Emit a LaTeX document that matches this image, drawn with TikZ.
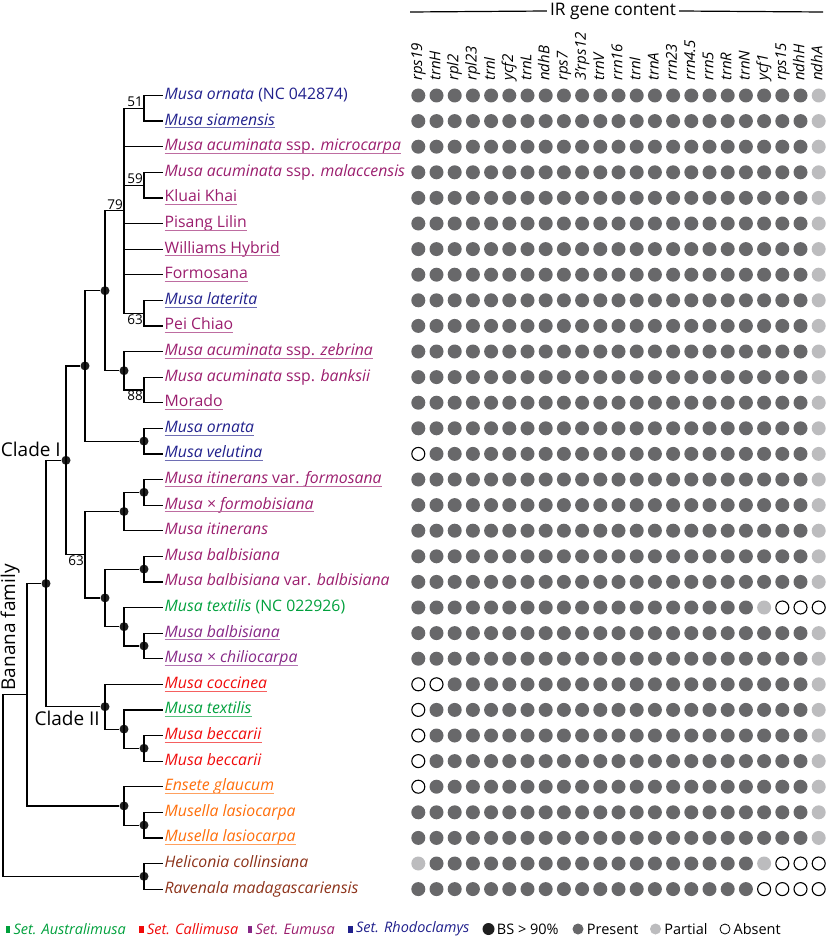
\documentclass[tikz,border=0pt]{standalone}
\usepackage{fontspec}
\setmainfont{Open Sans}
\usetikzlibrary{positioning, calc}

\definecolor{rho}{RGB}{32,32,140}
\definecolor{eum}{RGB}{155,30,110}
\definecolor{eumb}{RGB}{135,40,135}
\definecolor{aus}{RGB}{0,160,60}
\definecolor{cal}{RGB}{240,10,10}
\definecolor{ens}{RGB}{255,110,10}
\definecolor{outg}{RGB}{140,50,25}
\definecolor{dotdark}{RGB}{104,104,106}
\definecolor{dotlight}{RGB}{188,188,190}

% row and column positions of the figure
\newcommand{\ry}[1]{95.5+25.6*(#1-1)}
\newcommand{\cx}[1]{418.3+18.2*(#1-1)}

\begin{document}
\begin{tikzpicture}[%
		x=1pt, y=-1pt,
		branch/.style={
			line width=1.2pt,
			black
		},
		joint/.style={
			circle,
			inner sep=0pt,
			minimum size=0pt
		},
		bsdot/.style={
			circle,
			fill=black!88,
			inner sep=0pt,
			minimum size=9pt
		},
		bslabel/.style={
			font=\fontsize{13.5}{15}\selectfont,
			inner sep=1pt
		},
		leaf/.style={
			anchor=west,
			inner xsep=1.5pt,
			inner ysep=0pt,
			text height=11.5pt,
			text depth=3.7pt,
			font=\fontsize{15.8}{18}\selectfont
		},
		clade/.style={
			inner sep=0pt,
			font=\fontsize{19}{21}\selectfont
		},
		gene/.style={
			rotate=90,
			anchor=west,
			inner sep=0pt,
			text height=11pt,
			text depth=3.5pt,
			font=\fontsize{15}{17}\selectfont\itshape
		},
		gdot/.style={
			circle,
			inner sep=0pt,
			minimum size=14pt,
			fill=dotdark
		},
		partial/.style={fill=dotlight},
		absent/.style={
			fill=white,
			draw=black,
			line width=1.1pt,
			minimum size=13pt
		},
		col23/.style=partial,
		st15-1/.style=absent, st24-1/.style=absent, st24-2/.style=absent,
		st25-1/.style=absent, st26-1/.style=absent, st27-1/.style=absent,
		st28-1/.style=absent,
		st21-20/.style=partial, st21-21/.style=absent, st21-22/.style=absent, st21-23/.style=absent,
		st31-1/.style=partial, st31-20/.style=partial,
		st31-21/.style=absent, st31-22/.style=absent, st31-23/.style=absent,
		st32-20/.style=absent, st32-21/.style=absent, st32-22/.style=absent, st32-23/.style=absent,
		legsq/.style={
			rectangle,
			inner sep=0pt,
			minimum width=4.5pt,
			minimum height=7pt
		},
		legtxt/.style={
			inner sep=0pt,
			font=\fontsize{14.5}{16}\selectfont
		},
		legdot/.style={
			circle,
			inner sep=0pt,
			minimum size=11pt
		}]

		\useasboundingbox (0,0) rectangle (829,939);

		% HEADER

		\node [font=\fontsize{17.3}{19}\selectfont, inner xsep=3pt] (ir) at (613,11) {IR gene content};
		\coordinate (irl) at (410,12);
		\coordinate (irr) at (823,12);
		\draw[branch] (irl) -- (ir.west);
		\draw[branch] (ir.east) -- (irr);

		\foreach \g [count=\c] in {rps19, trnH, rpl2, rpl23, trnI, ycf2, trnL, ndhB, rps7, 3'rps12, trnV, rrn16, trnI, trnA, rrn23, rrn4.5, rrn5, trnR, trnN, ycf1, rps15, ndhH, ndhA}
			\node [gene] (g\c) at ({\cx{\c}},81) {\g};

		% LEAVES

		\foreach \r/\cl/\u/\txt in {
			1/rho/0/{\textit{Musa ornata} (NC 042874)},
			2/rho/1/{\textit{Musa siamensis}},
			3/eum/1/{\textit{Musa acuminata} ssp. \textit{microcarpa}},
			4/eum/0/{\textit{Musa acuminata} ssp. \textit{malaccensis}},
			5/eum/1/{Kluai Khai},
			6/eum/1/{Pisang Lilin},
			7/eum/1/{Williams Hybrid},
			8/eum/1/{Formosana},
			9/rho/1/{\textit{Musa laterita}},
			10/eum/1/{Pei Chiao},
			11/eum/1/{\textit{Musa acuminata} ssp. \textit{zebrina}},
			12/eum/0/{\textit{Musa acuminata} ssp. \textit{banksii}},
			13/eum/1/{Morado},
			14/rho/1/{\textit{Musa ornata}},
			15/rho/1/{\textit{Musa velutina}},
			16/eum/1/{\textit{Musa itinerans} var. \textit{formosana}},
			17/eum/1/{\textit{Musa × formobisiana}},
			18/eum/0/{\textit{Musa itinerans}},
			19/eum/0/{\textit{Musa balbisiana}},
			20/eum/0/{\textit{Musa balbisiana} var. \textit{balbisiana}},
			21/aus/0/{\textit{Musa textilis} (NC 022926)},
			22/eumb/1/{\textit{Musa balbisiana}},
			23/eumb/1/{\textit{Musa × chiliocarpa}},
			24/cal/1/{\textit{Musa coccinea}},
			25/aus/1/{\textit{Musa textilis}},
			26/cal/1/{\textit{Musa beccarii}},
			27/cal/0/{\textit{Musa beccarii}},
			28/ens/1/{\textit{Ensete glaucum}},
			29/ens/0/{\textit{Musella lasiocarpa}},
			30/ens/1/{\textit{Musella lasiocarpa}},
			31/outg/0/{\textit{Heliconia collinsiana}},
			32/outg/0/{\textit{Ravenala madagascariensis}}}
		{
			\node [leaf, text=\cl] (l\r) at (163,{\ry{\r}}) {\txt};
			\ifnum\u=1
				\draw[\cl!65, line width=0.8pt] ([xshift=1.5pt,yshift=-2.8pt]l\r.base west) -- ([xshift=-1.5pt,yshift=-2.8pt]l\r.base east);
			\fi
		}

		% INTERNAL NODES

		\node [joint] (n51) at (144,{\ry{1.5}}) {};
		\node [joint] (n59) at (144,{\ry{4.5}}) {};
		\node [joint] (n63a) at (144,{\ry{9.5}}) {};
		\node [joint] (n79) at (124,{\ry{5.5}}) {};
		\node [joint] (n88) at (144,{\ry{12.5}}) {};
		\node [bsdot] (zeb) at (124,{\ry{11.75}}) {};
		\node [bsdot] (acu) at (105,{\ry{8.625}}) {};
		\node [bsdot] (orn) at (144,{\ry{14.5}}) {};
		\node [bsdot] (rho) at (85,{\ry{11.5625}}) {};
		\node [bsdot] (iti1) at (144,{\ry{16.5}}) {};
		\node [bsdot] (iti2) at (124,{\ry{17.25}}) {};
		\node [bsdot] (bal1) at (144,{\ry{19.5}}) {};
		\node [bsdot] (bal2) at (144,{\ry{22.5}}) {};
		\node [bsdot] (tex1) at (124,{\ry{21.75}}) {};
		\node [bsdot] (bal) at (105,{\ry{20.625}}) {};
		\node [joint] (n63b) at (85,{\ry{18.9375}}) {};
		\node [bsdot] (clade1) at (66,{\ry{15.25}}) {};
		\node [bsdot] (bec) at (144,{\ry{26.5}}) {};
		\node [bsdot] (tex2) at (124,{\ry{25.75}}) {};
		\node [bsdot] (clade2) at (105,{\ry{24.875}}) {};
		\node [bsdot] (musa) at (46,{\ry{20.0625}}) {};
		\node [bsdot] (ens2) at (144,{\ry{29.5}}) {};
		\node [bsdot] (ens1) at (124,{\ry{28.75}}) {};
		\node [joint] (family) at (27,{\ry{24.40625}}) {};
		\node [bsdot] (outg) at (144,{\ry{31.5}}) {};
		\node [joint] (root) at (3,{\ry{27.953125}}) {};

		% BRANCHES

		\foreach \p/\c in {n51/l1, n51/l2, n79/n51, n79/l3, n79/n59, n79/l6, n79/l7, n79/l8, n79/n63a,
			n59/l4, n59/l5, n63a/l9, n63a/l10, n88/l12, n88/l13, zeb/l11, zeb/n88, acu/n79, acu/zeb,
			orn/l14, orn/l15, rho/acu, rho/orn, iti1/l16, iti1/l17, iti2/iti1, iti2/l18,
			bal1/l19, bal1/l20, bal2/l22, bal2/l23, tex1/l21, tex1/bal2, bal/bal1, bal/tex1,
			n63b/iti2, n63b/bal, clade1/rho, clade1/n63b, bec/l26, bec/l27, tex2/l25, tex2/bec,
			clade2/l24, clade2/tex2, musa/clade1, musa/clade2, ens2/l29, ens2/l30, ens1/l28, ens1/ens2,
			family/musa, family/ens1, outg/l31, outg/l32, root/family, root/outg}
			\draw[branch] (\p.center) |- (\c.west);

		% SUPPORT VALUES

		\node [bslabel, above left] at (n51) {51};
		\node [bslabel, above left] at (n59) {59};
		\node [bslabel, above left] at (n79) {79};
		\node [bslabel, below left] at (n63a) {63};
		\node [bslabel, below left] at (n88) {88};
		\node [bslabel, below left] at (n63b) {63};

		\node [clade, anchor=south east] at ([xshift=-5pt,yshift=3pt]clade1.center) {Clade I};
		\node [clade, anchor=north east] at ([xshift=-5pt,yshift=-4pt]clade2.center) {Clade II};
		\node [clade, rotate=90, anchor=south west] at ([xshift=-7pt,yshift=4pt]family.center) {Banana family};

		% GENE CONTENT

		\foreach \r in {1,...,32}
			\foreach \c in {1,...,23}
				\node [gdot, col\c/.try, st\r-\c/.try] (d\r-\c) at ({\cx{\c}},{\ry{\r}}) {};

		% LEGEND

		\node [legsq, fill=aus] (k1) at (8,929) {};
		\node [legtxt, text=aus, right=3pt of k1] {\textit{Set. Australimusa}};
		\node [legsq, fill=cal] (k2) at (141.5,929) {};
		\node [legtxt, text=cal, right=3pt of k2] {\textit{Set. Callimusa}};
		\node [legsq, fill=eumb] (k3) at (250,929) {};
		\node [legtxt, text=eum, right=3pt of k3] {\textit{Set. Eumusa}};
		\node [legsq, fill=rho] (k4) at (350.5,929) {};
		\node [legtxt, text=rho, right=3pt of k4] {\textit{Set. Rhodoclamys}};
		\node [legdot, fill=black!88, minimum size=12pt] (k5) at (488.5,929) {};
		\node [legtxt, right=2pt of k5] {BS > 90\%};
		\node [legdot, fill=dotdark] (k6) at (578,929) {};
		\node [legtxt, right=3pt of k6] {Present};
		\node [legdot, fill=dotlight] (k7) at (655.5,929) {};
		\node [legtxt, right=3pt of k7] {Partial};
		\node [legdot, draw=black, line width=0.8pt, minimum size=10pt] (k8) at (725,929) {};
		\node [legtxt, right=3pt of k8] {Absent};
\end{tikzpicture}
\end{document}
